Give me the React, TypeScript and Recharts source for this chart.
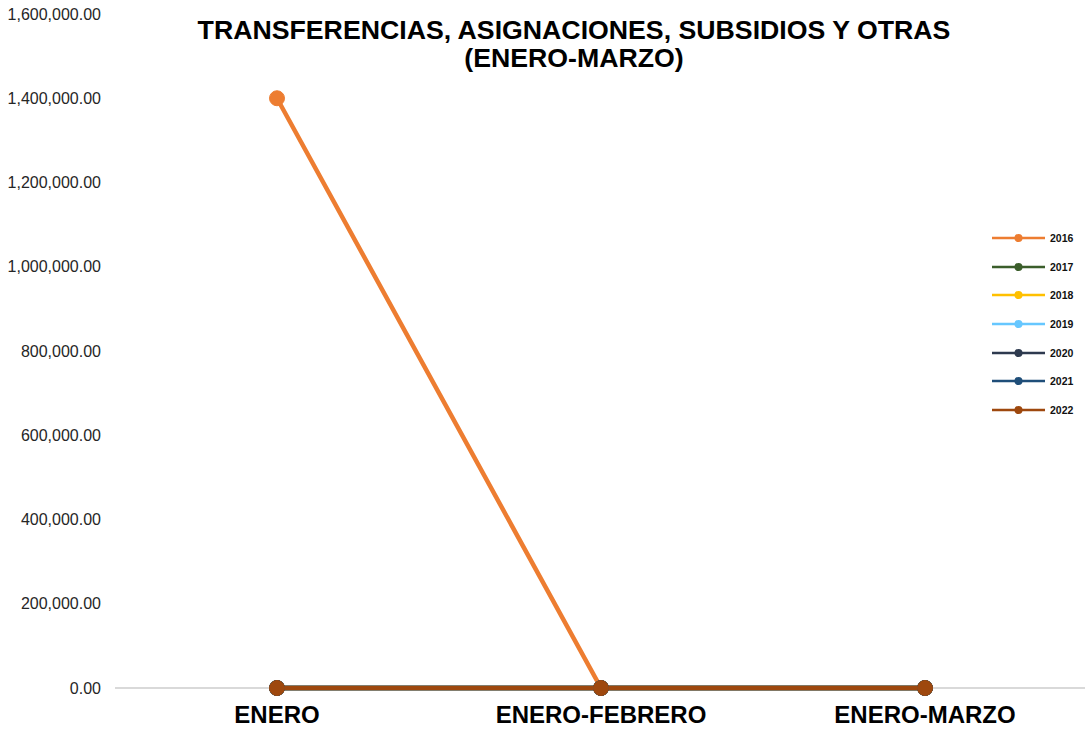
import { LineChart, Line, XAxis, YAxis, Legend, CartesianGrid } from 'recharts';

const periods = ['ENERO', 'ENERO-FEBRERO', 'ENERO-MARZO'];
const years = ['2016', '2017', '2018', '2019', '2020', '2021', '2022'];
const colors = ['#ED7D31', '#3B5E2B', '#FFC000', '#66C7FF', '#2E3A4F', '#1F4E79', '#9E480E'];

// importes por año, acumulados
const v2016 = [1400000, 0, 0];
const v2017 = [0, 0, 0];
const v2018 = [0, 0, 0];
const v2019 = [0, 0, 0];
const v2020 = [0, 0, 0];
const v2021 = [0, 0, 0];
const v2022 = [0, 0, 0];

const yTicks = [0, 200000, 400000, 600000, 800000, 1000000, 1200000, 1400000, 1600000];

const seriesValues = [v2016, v2017, v2018, v2019, v2020, v2021, v2022];

const chartData = periods.map((p, i) => {
  const row: Record<string, string | number> = { name: p };
  years.forEach((y, k) => {
    row[y] = seriesValues[k][i];
  });
  return row;
});

const fmt = (v: number) =>
  v.toLocaleString('en-US', { minimumFractionDigits: 2, maximumFractionDigits: 2 });

const font = 'Liberation Sans, Arial, sans-serif';

function YearLegend() {
  return (
    <div style={{ fontFamily: font }}>
      {years.map((y, i) => (
        <div key={y} style={{ display: 'flex', alignItems: 'center', height: 28.6 }}>
          <svg width={55} height={10}>
            <line x1={1} y1={5} x2={54} y2={5} stroke={colors[i]} strokeWidth={2.5} />
            <circle cx={27.5} cy={5} r={4} fill={colors[i]} />
          </svg>
          <span style={{ fontSize: 10.5, fontWeight: 700, marginLeft: 4, color: '#111' }}>{y}</span>
        </div>
      ))}
    </div>
  );
}

export default function App() {
  return (
    <div style={{ position: 'absolute', left: 0, top: 0, width: 1085, height: 729, background: '#fff' }}>
      <div
        style={{
          position: 'absolute',
          left: 0,
          top: 16,
          width: 1148,
          textAlign: 'center',
          fontFamily: font,
          fontWeight: 700,
          fontSize: 26.7,
          lineHeight: '28px',
          color: '#000',
        }}
      >
        TRANSFERENCIAS, ASIGNACIONES, SUBSIDIOS Y OTRAS
        <br />
        (ENERO-MARZO)
      </div>
      <LineChart
        width={1085}
        height={729}
        data={chartData}
        margin={{ top: 14, right: -2, bottom: 0, left: 0 }}
        style={{ position: 'absolute', left: 0, top: 0 }}
      >
        <CartesianGrid vertical={false} horizontalValues={[0]} stroke="#d9d9d9" strokeWidth={2} />
        <XAxis
          dataKey="name"
          padding={{ left: 162, right: 162 }}
          axisLine={false}
          tickLine={false}
          tickSize={0}
          tickMargin={18}
          height={41}
          tick={{ fontSize: 24, fontWeight: 700, fill: '#000', fontFamily: font }}
        />
        <YAxis
          width={115}
          domain={[0, 1600000]}
          ticks={yTicks}
          interval={0}
          axisLine={false}
          tickLine={false}
          tickSize={0}
          tickMargin={14}
          tickFormatter={fmt}
          tick={{ fontSize: 16, fill: '#262626', fontFamily: font }}
        />
        <Legend
          layout="horizontal"
          align="center"
          verticalAlign="middle"
          content={<YearLegend />}
          wrapperStyle={{ left: 991, top: 224, width: 95 }}
        />
        {years.map((y, i) => (
          <Line
            key={y}
            dataKey={y}
            type="linear"
            stroke={colors[i]}
            strokeWidth={4.5}
            dot={{ r: 7.5, fill: colors[i], stroke: colors[i], strokeWidth: 1 }}
            activeDot={false}
            isAnimationActive={false}
          />
        ))}
      </LineChart>
    </div>
  );
}
